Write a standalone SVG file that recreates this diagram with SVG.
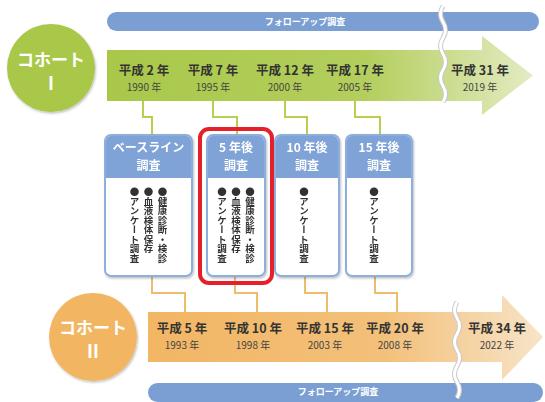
<svg xmlns="http://www.w3.org/2000/svg" width="545" height="402" viewBox="0 0 545 402">
<defs>
<linearGradient id="gG" x1="0" y1="0" x2="1" y2="0">
<stop offset="0" stop-color="#a9c84a"/><stop offset="0.6" stop-color="#b3ce5c"/><stop offset="1" stop-color="#e3ebc2"/>
</linearGradient>
<linearGradient id="gO" x1="0" y1="0" x2="1" y2="0">
<stop offset="0" stop-color="#f2b664"/><stop offset="0.6" stop-color="#f3c07a"/><stop offset="1" stop-color="#f7e4c8"/>
</linearGradient>
<filter id="sh" x="-10%" y="-10%" width="130%" height="130%"><feDropShadow dx="1" dy="1.5" stdDeviation="1.2" flood-color="#000" flood-opacity="0.25"/></filter>
<style>
.yr{font-family:"Noto Sans CJK JP","Noto Sans",sans-serif;font-weight:bold;font-size:12.5px;fill:#333;text-anchor:middle}
.ad{font-family:"Noto Sans CJK JP","Noto Sans",sans-serif;font-size:10px;fill:#444;text-anchor:middle}
.bar{fill:#7b9fd3}
.bartx{font-family:"Noto Sans CJK JP",sans-serif;font-size:9px;font-weight:bold;fill:#fff;text-anchor:middle}
.ct{font-family:"Noto Sans CJK JP",sans-serif;font-weight:bold;fill:#fff;text-anchor:middle}
.box{fill:#fff;stroke:#8eaedc;stroke-width:2}
.hd{fill:#7fa3d6}
.hdtx{font-family:"Noto Sans CJK JP",sans-serif;font-weight:bold;font-size:12px;fill:#fff;text-anchor:middle}
.vt{font-family:"Noto Sans CJK JP",sans-serif;font-weight:bold;font-size:9.5px;fill:#333;writing-mode:vertical-rl}
.cg{fill:none;stroke:#b6cf4f;stroke-width:2}
.co{fill:none;stroke:#eebc6c;stroke-width:2}
.wave{fill:none;stroke:#c8c8c8;stroke-width:5}
.wave2{fill:none;stroke:#fff;stroke-width:3}
</style>
</defs>
<rect width="545" height="402" fill="#fff"/>

<!-- follow-up bars -->
<g id="followup-top">
<rect class="bar" x="107" y="12" width="432" height="19" rx="9.5"/>
<text class="bartx" x="305" y="25">フォローアップ調査</text>
</g>
<g id="followup-bottom">
<rect class="bar" x="148" y="383" width="395" height="19" rx="9.5"/>
<text class="bartx" x="338" y="395">フォローアップ調査</text>
</g>

<!-- cohort I arrow -->
<g id="cohort1-arrow">
<path d="M107 50 H482 V36 L533 75.5 L482 115 V101 H107 Z" fill="url(#gG)"/>
<text class="yr" x="144" y="75">平成 2 年</text><text class="ad" x="144" y="91">1990 年</text>
<text class="yr" x="213" y="75">平成 7 年</text><text class="ad" x="213" y="91">1995 年</text>
<text class="yr" x="285" y="75">平成 12 年</text><text class="ad" x="285" y="91">2000 年</text>
<text class="yr" x="355" y="75">平成 17 年</text><text class="ad" x="355" y="91">2005 年</text>
<text class="yr" x="480" y="75">平成 31 年</text><text class="ad" x="480" y="91">2019 年</text>
</g>
<g id="cohort1">
<circle cx="51" cy="68" r="44" fill="#a9c84a" filter="url(#sh)"/>
<text class="ct" x="51" y="66" font-size="17">コホート</text>
<text class="ct" x="51" y="90" font-size="18" font-family="Liberation Serif">I</text>
</g>

<!-- cohort II arrow -->
<g id="cohort2-arrow">
<path d="M148 312 H502 V295 L543 337 L502 380 V362 H148 Z" fill="url(#gO)"/>
<text class="yr" x="182" y="333">平成 5 年</text><text class="ad" x="182" y="349">1993 年</text>
<text class="yr" x="253" y="333">平成 10 年</text><text class="ad" x="253" y="349">1998 年</text>
<text class="yr" x="325" y="333">平成 15 年</text><text class="ad" x="325" y="349">2003 年</text>
<text class="yr" x="395" y="333">平成 20 年</text><text class="ad" x="395" y="349">2008 年</text>
<text class="yr" x="497" y="333">平成 34 年</text><text class="ad" x="497" y="349">2022 年</text>
</g>
<g id="cohort2">
<circle cx="93" cy="337" r="44" fill="#f2b664" filter="url(#sh)"/>
<text class="ct" x="93" y="334" font-size="17">コホート</text>
<text class="ct" x="93" y="358" font-size="18" font-family="Liberation Serif">II</text>
</g>

<!-- wavy breaks -->
<g id="breaks">
<path class="wave" d="M443 6 q-5 8 0 16 q5 8 0 16 q-5 8 0 16 q5 8 0 16 q-5 8 0 16 q5 8 0 16"/>
<path class="wave2" d="M443 6 q-5 8 0 16 q5 8 0 16 q-5 8 0 16 q5 8 0 16 q-5 8 0 16 q5 8 0 16"/>
<path class="wave" d="M457 302 q-5 8 0 16 q5 8 0 16 q-5 8 0 16 q5 8 0 16 q-5 8 0 16 q5 8 0 16"/>
<path class="wave2" d="M457 302 q-5 8 0 16 q5 8 0 16 q-5 8 0 16 q5 8 0 16 q-5 8 0 16 q5 8 0 16"/>
</g>

<!-- connectors -->
<g id="connectors">
<path class="cg" d="M143 101 V117 H152 V135"/>
<path class="cg" d="M213 101 V117 H237 V135"/>
<path class="cg" d="M285 101 V117 H307 V135"/>
<path class="cg" d="M355 101 V117 H380 V135"/>
<path class="co" d="M152 277 V293 H185 V312"/>
<path class="co" d="M235 277 V293 H257 V312"/>
<path class="co" d="M305 277 V293 H327 V312"/>
<path class="co" d="M375 277 V293 H397 V312"/>
</g>

<!-- boxes -->
<g id="box-baseline" filter="url(#sh)">
<rect class="box" x="105" y="135" width="87" height="141" rx="6"/>
<path class="hd" d="M106 178 V141 a5 5 0 0 1 5 -5 H186 a5 5 0 0 1 5 5 V178 Z"/>
<text class="hdtx" x="148.5" y="152">ベースライン</text>
<text class="hdtx" x="148.5" y="170">調査</text>
<text class="vt" x="162.5" y="187">●健康診断・検診</text>
<text class="vt" x="148.5" y="187">●血液検体保存</text>
<text class="vt" x="134.5" y="187">●アンケート調査</text>
</g>
<g id="box-5y" filter="url(#sh)">
<rect class="box" x="207" y="135" width="58" height="141" rx="6"/>
<path class="hd" d="M208 178 V141 a5 5 0 0 1 5 -5 H259 a5 5 0 0 1 5 5 V178 Z"/>
<text class="hdtx" x="236" y="152">5 年後</text>
<text class="hdtx" x="236" y="170">調査</text>
<text class="vt" x="250" y="187">●健康診断・検診</text>
<text class="vt" x="236" y="187">●血液検体保存</text>
<text class="vt" x="222" y="187">●アンケート調査</text>
</g>
<g id="highlight">
<rect x="200" y="129" width="72" height="154" rx="9" fill="none" stroke="#e6202a" stroke-width="4"/>
</g>
<g id="box-10y" filter="url(#sh)">
<rect class="box" x="275" y="135" width="64" height="141" rx="6"/>
<path class="hd" d="M276 178 V141 a5 5 0 0 1 5 -5 H333 a5 5 0 0 1 5 5 V178 Z"/>
<text class="hdtx" x="307" y="152">10 年後</text>
<text class="hdtx" x="307" y="170">調査</text>
<text class="vt" x="304" y="187">●アンケート調査</text>
</g>
<g id="box-15y" filter="url(#sh)">
<rect class="box" x="346" y="135" width="66" height="141" rx="6"/>
<path class="hd" d="M347 178 V141 a5 5 0 0 1 5 -5 H406 a5 5 0 0 1 5 5 V178 Z"/>
<text class="hdtx" x="379" y="152">15 年後</text>
<text class="hdtx" x="379" y="170">調査</text>
<text class="vt" x="374" y="187">●アンケート調査</text>
</g>
</svg>
